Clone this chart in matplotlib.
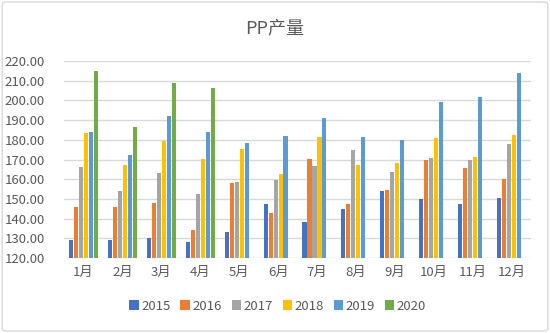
import matplotlib
matplotlib.use("Agg")
import matplotlib.pyplot as plt
import numpy as np
from matplotlib.patches import FancyBboxPatch

plt.rcParams['font.family'] = ['Noto Sans CJK SC', 'DejaVu Sans']

months = ["1月", "2月", "3月", "4月", "5月", "6月", "7月", "8月", "9月", "10月", "11月", "12月"]
years = ["2015", "2016", "2017", "2018", "2019", "2020"]

y2015 = [129.3, 129.3, 130.2, 128.0, 133.0, 147.6, 138.4, 145.0, 154.0, 150.0, 147.4, 150.6]
y2016 = [146.0, 146.0, 147.8, 134.4, 157.9, 142.7, 170.4, 147.4, 154.5, 169.9, 165.7, 160.3]
y2017 = [166.3, 154.2, 163.3, 152.3, 158.4, 159.6, 166.7, 175.0, 163.8, 170.8, 169.7, 177.7]
y2018 = [183.5, 167.1, 179.4, 170.3, 175.3, 162.8, 181.4, 167.2, 168.1, 181.1, 171.4, 182.3]
y2019 = [183.8, 172.2, 191.9, 184.2, 178.2, 181.8, 191.1, 181.4, 180.1, 199.0, 201.7, 213.7]
y2020 = [214.9, 186.5, 209.0, 206.3]

series = [y2015, y2016, y2017, y2018, y2019, y2020]
colors = ["#4472C4", "#ED7D31", "#A5A5A5", "#FFC000", "#5B9BD5", "#70AD47"]

yticks = [120, 130, 140, 150, 160, 170, 180, 190, 200, 210, 220]

fig = plt.figure(figsize=(5.5, 3.33), dpi=100)
ax = fig.add_axes([0.1164, 0.2252, 0.8491, 0.5916])

step = 0.128
width = 0.105
x = np.arange(len(months))
for j, (vals, yr, col) in enumerate(zip(series, years, colors)):
    xs = x[:len(vals)] + (j - 2.5) * step
    ax.bar(xs, np.array(vals) - 120, bottom=120, width=width, color=col,
           label=yr, zorder=3)

ax.set_ylim(120, 220)
ax.set_xlim(-0.5, len(months) - 0.5)
ax.set_yticks(yticks)
ax.set_yticklabels([f"{v:.2f}" for v in yticks])
ax.set_xticks(x)
ax.set_xticklabels(months)
ax.tick_params(axis='both', length=0, labelsize=9.5, colors="#595959")
ax.tick_params(axis='y', pad=14)
ax.tick_params(axis='x', pad=6)
ax.grid(axis='y', color="#D9D9D9", linewidth=1.0, zorder=0)
for s in ax.spines.values():
    s.set_visible(False)

fig.text(0.5, 1 - 28 / 333, "PP产量", ha='center', va='center',
         fontsize=13, color="#595959")

fig.legend(loc='center', bbox_to_anchor=(0.505, 1 - 306 / 333), ncol=6,
           frameon=False, handlelength=0.7, handleheight=0.7,
           handletextpad=0.2, columnspacing=0.75,
           prop={'size': 9.5}, labelcolor="#595959")

border = FancyBboxPatch((0.004, 0.006), 0.992, 0.988,
                        boxstyle="round,pad=0,rounding_size=0.008",
                        transform=fig.transFigure, facecolor='none',
                        edgecolor="#D9D9D9", linewidth=1.0)
fig.patches.append(border)

fig.savefig("out.png", dpi=100)
